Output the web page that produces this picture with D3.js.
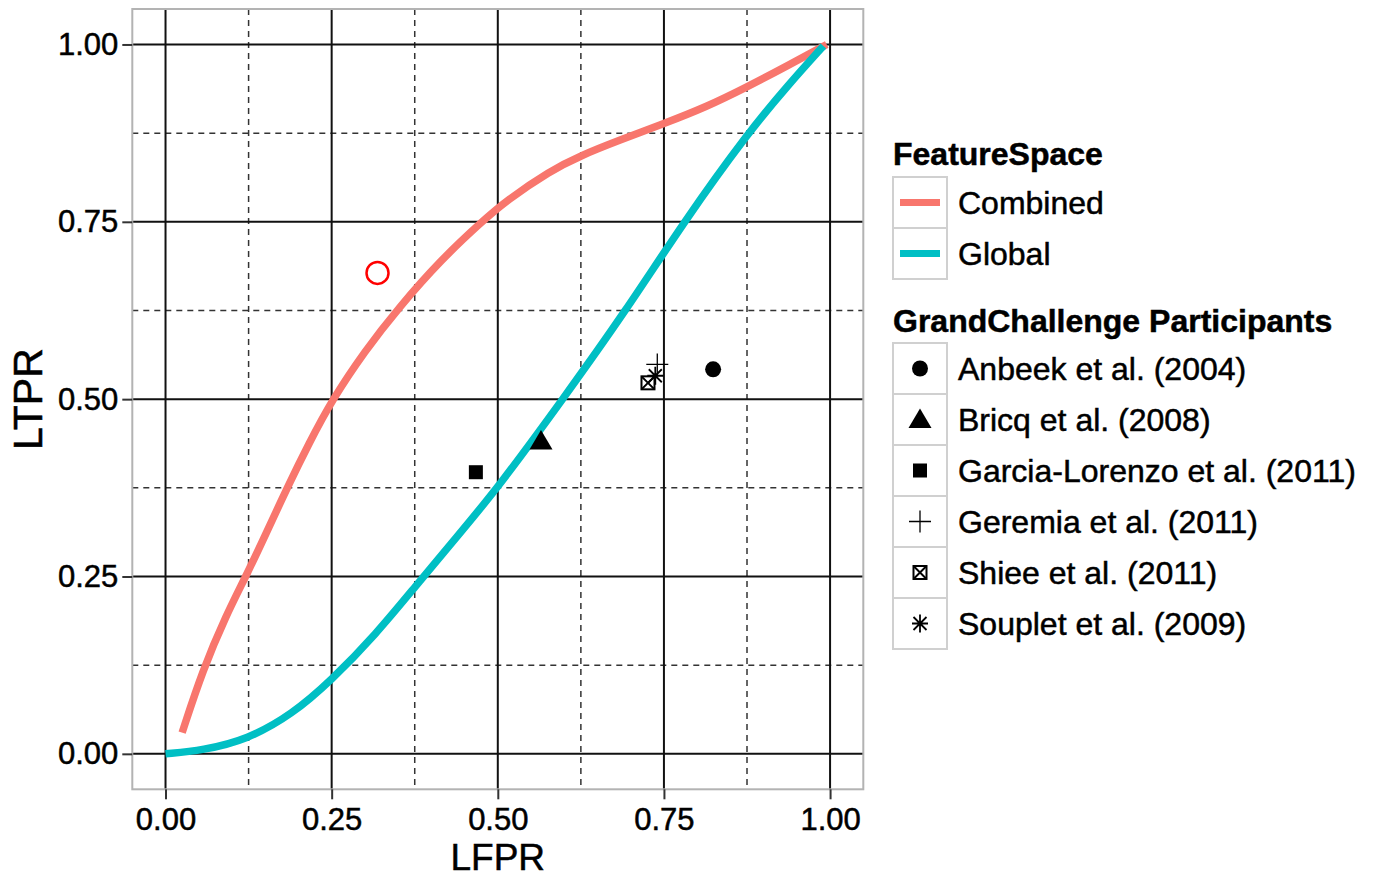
<!DOCTYPE html>
<html>
<head>
<meta charset="utf-8">
<script src="https://cdn.jsdelivr.net/npm/d3@7"></script>
<style>
  body { margin: 0; background: #fff; }
  text { font-family: "Liberation Sans", Arial, sans-serif; fill: #000; stroke: #000; stroke-width: 0.5px; }
</style>
</head>
<body>
<div id="chart"></div>
<script>
// curve data
const combinedX = [0.025, 0.056, 0.091, 0.123, 0.151, 0.184, 0.216, 0.25, 0.30, 0.35, 0.415, 0.477, 0.513, 0.579, 0.624, 0.683, 0.749, 0.814, 0.873, 0.938, 0.995];
const combinedY = [0.03, 0.118, 0.195, 0.254, 0.31, 0.377, 0.438, 0.498, 0.568, 0.628, 0.697, 0.751, 0.78, 0.822, 0.843, 0.865, 0.888, 0.912, 0.939, 0.971, 1.0];
const globalX = [0.0, 0.056, 0.123, 0.191, 0.249, 0.317, 0.375, 0.442, 0.5, 0.598, 0.693, 0.78, 0.876, 0.938, 0.99];
const globalY = [0.0, 0.005, 0.02, 0.056, 0.103, 0.169, 0.235, 0.31, 0.375, 0.5, 0.625, 0.75, 0.875, 0.944, 0.998];

const featureNames = ["Combined", "Global"];
const featureColors = ["#F8766D", "#00BFC4"];

const participants = ["Anbeek et al. (2004)", "Bricq et al. (2008)", "Garcia-Lorenzo et al. (2011)", "Geremia et al. (2011)", "Shiee et al. (2011)", "Souplet et al. (2009)"];
const participantShapes = ["circle", "triangle", "square", "plus", "squareX", "asterisk"];
const participantX = [0.824, 0.565, 0.467, 0.740, 0.726, 0.737];
const participantY = [0.542, 0.441, 0.397, 0.549, 0.523, 0.533];

// the open red circle
const ownX = [0.319];
const ownY = [0.678];

const majorTicks = [0, 0.25, 0.5, 0.75, 1];
const minorTicks = [0.125, 0.375, 0.625, 0.875];

const width = 1374, height = 878;
const panel = { left: 132.3, right: 863.3, top: 9, bottom: 789.3 };

const svg = d3.select("#chart").append("svg")
  .attr("width", width).attr("height", height);

const x = d3.scaleLinear().domain([-0.05, 1.05]).range([panel.left, panel.right]);
const y = d3.scaleLinear().domain([-0.05, 1.05]).range([panel.bottom, panel.top]);

// grid
const grid = svg.append("g");
grid.selectAll(".vmin").data(minorTicks).enter().append("line")
  .attr("x1", d => x(d)).attr("x2", d => x(d))
  .attr("y1", panel.top).attr("y2", panel.bottom)
  .attr("stroke", "#333").attr("stroke-width", 1.5).attr("stroke-dasharray", "6,5");
grid.selectAll(".hmin").data(minorTicks).enter().append("line")
  .attr("y1", d => y(d)).attr("y2", d => y(d))
  .attr("x1", panel.left).attr("x2", panel.right)
  .attr("stroke", "#333").attr("stroke-width", 1.5).attr("stroke-dasharray", "6,5");
grid.selectAll(".vmaj").data(majorTicks).enter().append("line")
  .attr("x1", d => x(d)).attr("x2", d => x(d))
  .attr("y1", panel.top).attr("y2", panel.bottom)
  .attr("stroke", "#111").attr("stroke-width", 2);
grid.selectAll(".hmaj").data(majorTicks).enter().append("line")
  .attr("y1", d => y(d)).attr("y2", d => y(d))
  .attr("x1", panel.left).attr("x2", panel.right)
  .attr("stroke", "#111").attr("stroke-width", 2);

// panel border
svg.append("rect")
  .attr("x", panel.left).attr("y", panel.top)
  .attr("width", panel.right - panel.left).attr("height", panel.bottom - panel.top)
  .attr("fill", "none").attr("stroke", "#b3b3b3").attr("stroke-width", 2);

// axes
const fmt = d3.format(".2f");
const xAxis = svg.append("g")
  .attr("transform", `translate(0,${panel.bottom})`)
  .call(d3.axisBottom(x).tickValues(majorTicks).tickFormat(fmt).tickSize(10).tickPadding(5));
const yAxis = svg.append("g")
  .attr("transform", `translate(${panel.left},0)`)
  .call(d3.axisLeft(y).tickValues(majorTicks).tickFormat(fmt).tickSize(10).tickPadding(4));
[xAxis, yAxis].forEach(a => {
  a.select(".domain").remove();
  a.selectAll(".tick line").attr("stroke", "#333").attr("stroke-width", 2);
  a.selectAll(".tick text").style("font-size", "31px").attr("fill", "#000");
});
xAxis.selectAll(".tick text").attr("dy", "0.82em");

svg.append("text")
  .attr("x", x(0.5)).attr("y", 870)
  .attr("text-anchor", "middle")
  .style("font-size", "37px")
  .text("LFPR");
svg.append("text")
  .attr("transform", `translate(42,${y(0.5)}) rotate(-90)`)
  .attr("text-anchor", "middle")
  .style("font-size", "41px")
  .text("LTPR");

// curves
const line = d3.line()
  .x(d => x(d[0]))
  .y(d => y(d[1]))
  .curve(d3.curveBasis);
const series = [
  d3.zip(combinedX, combinedY),
  d3.zip(globalX, globalY)
];
svg.selectAll(".curve").data(series).enter().append("path")
  .attr("d", line)
  .attr("fill", "none")
  .attr("stroke", (d, i) => featureColors[i])
  .attr("stroke-width", 7.5);

// shapes
function drawShape(g, shape, cx, cy) {
  const s = g.append("g").attr("transform", `translate(${cx},${cy})`);
  if (shape === "circle") {
    s.append("circle").attr("r", 8).attr("fill", "#000");
  } else if (shape === "triangle") {
    s.append("path").attr("d", "M0,-11L11.5,8.5L-11.5,8.5Z").attr("fill", "#000");
  } else if (shape === "square") {
    s.append("rect").attr("x", -7).attr("y", -7).attr("width", 14).attr("height", 14).attr("fill", "#000");
  } else if (shape === "plus") {
    s.append("path").attr("d", "M-11,0H11M0,-11V11").attr("stroke", "#000").attr("stroke-width", 1.3);
  } else if (shape === "squareX") {
    s.append("rect").attr("x", -6.5).attr("y", -6.5).attr("width", 13).attr("height", 13)
      .attr("fill", "none").attr("stroke", "#000").attr("stroke-width", 2);
    s.append("path").attr("d", "M-6.5,-6.5L6.5,6.5M6.5,-6.5L-6.5,6.5").attr("stroke", "#000").attr("stroke-width", 2);
  } else if (shape === "asterisk") {
    s.append("path").attr("d", "M-8,0H8M0,-9V9M-6.5,-6.5L6.5,6.5M6.5,-6.5L-6.5,6.5")
      .attr("stroke", "#000").attr("stroke-width", 1.8);
  }
}

const pts = svg.append("g");
participants.forEach((p, i) => {
  drawShape(pts, participantShapes[i], x(participantX[i]), y(participantY[i]));
});

svg.selectAll(".own").data(d3.zip(ownX, ownY)).enter().append("circle")
  .attr("cx", d => x(d[0])).attr("cy", d => y(d[1]))
  .attr("r", 11).attr("fill", "none").attr("stroke", "#ff0000").attr("stroke-width", 2.5);

// legends
const legX = 893, keyW = 54, rowH = 51, textX = 958;
const leg = svg.append("g");

leg.append("text").attr("x", legX).attr("y", 165)
  .style("font-size", "32px").style("font-weight", "bold").text("FeatureSpace");
featureNames.forEach((name, i) => {
  const top = 177 + i * rowH;
  leg.append("rect").attr("x", legX).attr("y", top).attr("width", keyW).attr("height", rowH)
    .attr("fill", "#fff").attr("stroke", "#d0d0d0").attr("stroke-width", 2);
  leg.append("line").attr("x1", legX + 7).attr("x2", legX + keyW - 7)
    .attr("y1", top + rowH / 2).attr("y2", top + rowH / 2)
    .attr("stroke", featureColors[i]).attr("stroke-width", 7);
  leg.append("text").attr("x", textX).attr("y", top + rowH / 2 + 11)
    .style("font-size", "32px").text(name);
});

leg.append("text").attr("x", legX).attr("y", 332)
  .style("font-size", "32px").style("font-weight", "bold").text("GrandChallenge Participants");
participants.forEach((name, i) => {
  const top = 343 + i * rowH;
  leg.append("rect").attr("x", legX).attr("y", top).attr("width", keyW).attr("height", rowH)
    .attr("fill", "#fff").attr("stroke", "#d0d0d0").attr("stroke-width", 2);
  drawShape(leg, participantShapes[i], legX + keyW / 2, top + rowH / 2);
  leg.append("text").attr("x", textX).attr("y", top + rowH / 2 + 11)
    .style("font-size", "32px").text(name);
});
</script>
</body>
</html>
